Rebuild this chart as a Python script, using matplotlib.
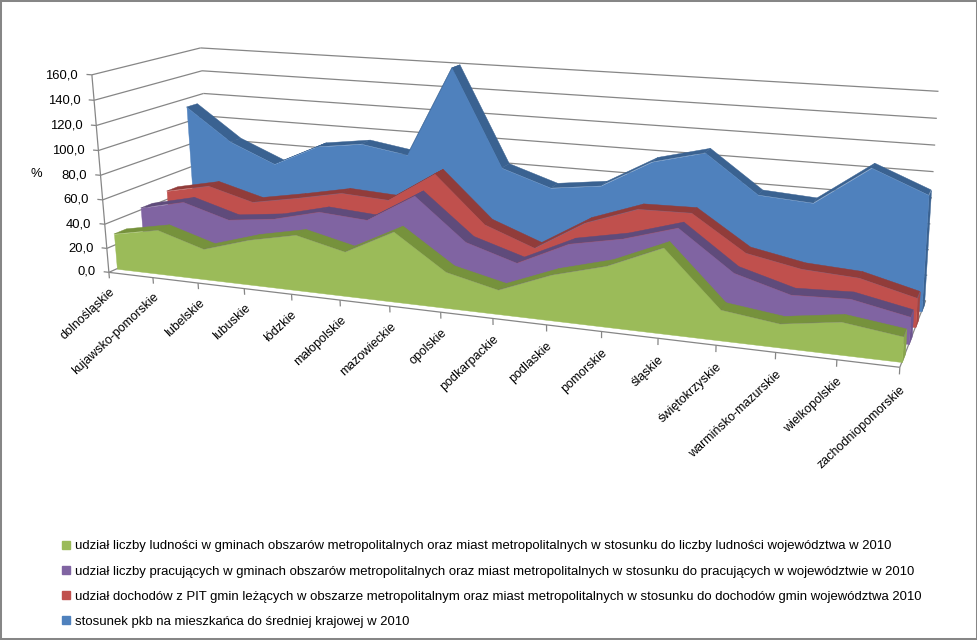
import numpy as np
import matplotlib
matplotlib.use('Agg')
import matplotlib.pyplot as plt
from matplotlib.patches import Patch, Rectangle
from mpl_toolkits.mplot3d import proj3d
from mpl_toolkits.mplot3d.art3d import Line3DCollection, Poly3DCollection

plt.rcParams['font.family'] = ['Liberation Sans', 'DejaVu Sans']

categories = ['dolnośląskie', 'kujawsko-pomorskie', 'lubelskie', 'lubuskie', 'łódzkie', 'małopolskie',
              'mazowieckie', 'opolskie', 'podkarpackie', 'podlaskie', 'pomorskie', 'śląskie',
              'świętokrzyskie', 'warmińsko-mazurskie', 'wielkopolskie', 'zachodniopomorskie']
ludnosc = [29.2, 36.5, 24.9, 36.4, 44.4, 35.2, 54.9, 28.0, 18.7, 34.6, 45.6, 63.2, 22.5, 17.2, 23.5, 18.0]
pracujacy = [41.6, 50.3, 39.2, 43.8, 53.3, 50.6, 73.5, 40.9, 28.6, 47.6, 55.6, 67.8, 38.3, 26.5, 28.2, 19.8]
pit = [47.2, 55.2, 44.9, 51.9, 59.7, 57.6, 82.4, 45.1, 30.1, 54.2, 68.7, 69.5, 42.8, 34.8, 32.5, 21.9]
pkb = [112.8, 85.2, 69.1, 87.2, 92.6, 86.5, 160.5, 82.2, 69.3, 74.5, 97.0, 107.3, 77.9, 75.3, 105.4, 88.6]
z_ticks = [0, 20, 40, 60, 80, 100, 120, 140, 160]
labels = ['udział liczby ludności w gminach obszarów metropolitalnych oraz miast metropolitalnych w stosunku do liczby ludności województwa w 2010',
          'udział liczby pracujących w gminach obszarów metropolitalnych oraz miast metropolitalnych w stosunku do pracujących w województwie w 2010',
          'udział dochodów z PIT gmin leżących w obszarze metropolitalnym oraz miast metropolitalnych w stosunku do dochodów gmin województwa 2010',
          'stosunek pkb na mieszkańca do średniej krajowej w 2010']

# back to front
series = [pkb, pit, pracujacy, ludnosc]
faces = ['#4f81bd', '#c0504d', '#8064a2', '#9bbb59']
tops = ['#3a6291', '#913c3a', '#5f4b7b', '#76923c']
caps = ['#3a6291', '#a54441', '#6d5590', '#88a54c']
depth_front = [3.28, 2.28, 1.28, 0.28]
depth_back = [3.72, 2.72, 1.72, 0.72]

# camera of the original chart: box corners -> pixels, solved as one matrix
cal_3d = [(0, 0, 0), (7, 0, 0), (11, 0, 0), (15, 0, 0), (0, 0, 80), (0, 0, 160),
          (0, 4, 160), (0, 4, 120), (15, 4, 160), (15, 4, 100), (0, 4, 0), (15, 4, 0)]
cal_px = [(108, 272), (440, 312), (658, 338), (901, 366), (100, 175), (93, 77),
          (200, 47), (203, 92), (939, 92), (933, 171), (214, 227), (925, 302)]
rows = []
for (x, y, z), (u, v) in zip(cal_3d, cal_px):
    rows.append([x, y, z, 1, 0, 0, 0, 0, -u*x, -u*y, -u*z, -u])
    rows.append([0, 0, 0, 0, x, y, z, 1, -v*x, -v*y, -v*z, -v])
H = np.linalg.svd(np.array(rows, float))[2][-1].reshape(3, 4)
H = H / H[2, 3]

fig = plt.figure(figsize=(9.78, 6.4), dpi=100)
ax = fig.add_axes([0, 0, 1, 1], projection='3d', computed_zorder=False)
ax.set_axis_off()
ax.set_xlim(0, 15)
ax.set_ylim(0, 4)
ax.set_zlim(0, 160)
ax.apply_aspect()

T = np.linalg.inv(ax.transData.get_matrix()) @ np.array([[1, 0, 0], [0, -1, 640], [0, 0, 1]])
H2 = T @ H
M = np.array([H2[0], H2[1], [0, 1, 0, 0], H2[2]])
ax.get_proj = lambda: M


def label(x, y, z, s, **kw):
    px, py, _ = proj3d.proj_transform(x, y, z, M)
    ax.text2D(px, py, s, transform=ax.transData, color='black', **kw)


segs = []
for v in z_ticks:
    segs.append([(0, 0, v), (0, 4, v)])
    segs.append([(0, 4, v), (15, 4, v)])
    segs.append([(-0.12, 0, v), (0, 0, v)])
    label(-0.31, 0, v - 1, f'{v:.1f}'.replace('.', ','), ha='right', va='center', fontsize=9.4)
segs.append([(0, 0, 0), (0, 0, 160)])
segs.append([(0, 0, 0), (15, 0, 0)])
segs.append([(15, 0, 0), (15, 4, 0)])
for i, name in enumerate(categories):
    segs.append([(i, 0, 0), (i, 0, -5)])
    label(i + 0.07, 0, -14.5, name, rotation=43, rotation_mode='anchor', ha='right', va='center', fontsize=9)
label(-1.5, 0, 76, '%', ha='center', va='center', fontsize=9.4)
ax.add_collection3d(Line3DCollection(segs, colors='#868686', linewidths=0.9, zorder=1, clip_on=False))

z = 2
for vals, f, t, c, d0, d1 in zip(series, faces, tops, caps, depth_front, depth_back):
    strip = []
    for i in range(len(vals) - 1):
        strip.append([(i, d0, vals[i]), (i + 1, d0, vals[i + 1]), (i + 1, d1, vals[i + 1]), (i, d1, vals[i])])
    ax.add_collection3d(Poly3DCollection(strip, facecolors=t, edgecolors=t, linewidths=0.3, zorder=z, clip_on=False))
    n = len(vals) - 1
    cap = [[(n, d0, 0), (n, d1, 0), (n, d1, vals[n]), (n, d0, vals[n])]]
    ax.add_collection3d(Poly3DCollection(cap, facecolors=c, edgecolors=c, linewidths=0.3, zorder=z, clip_on=False))
    front = [(0, d0, 0)] + [(i, d0, v) for i, v in enumerate(vals)] + [(n, d0, 0)]
    ax.add_collection3d(Poly3DCollection([front], facecolors=f, edgecolors=f, linewidths=0.3, zorder=z + 1, clip_on=False))
    z += 2

handles = [Patch(color=faces[3]), Patch(color=faces[2]), Patch(color=faces[1]), Patch(color=faces[0])]
fig.legend(handles, labels, loc='lower left', bbox_to_anchor=(0.0634, 0.019), frameon=False, fontsize=9.45,
           handlelength=0.62, handleheight=0.62, handletextpad=0.38, labelspacing=1.0, borderpad=0, borderaxespad=0)
fig.add_artist(Rectangle((0, 0), 1, 1, transform=fig.transFigure, fill=False, edgecolor='#868686', lw=2.9))

fig.savefig('out.png', dpi=100)
